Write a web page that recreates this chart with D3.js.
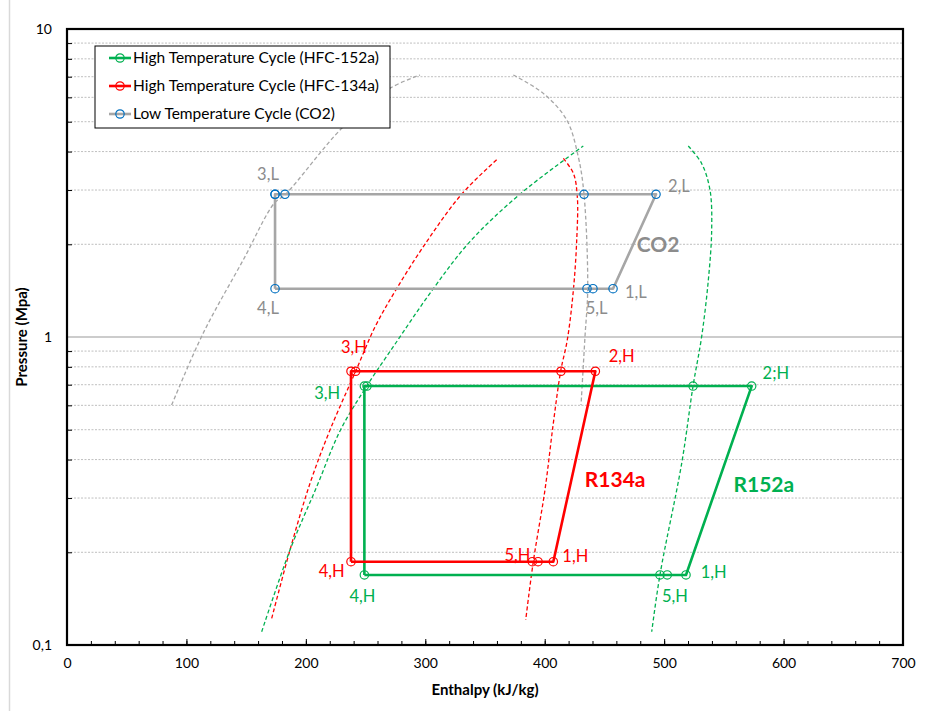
<!DOCTYPE html>
<html>
<head>
<meta charset="utf-8">
<script src="https://cdn.jsdelivr.net/npm/d3@7"></script>
<style>
  body { margin: 0; background: #fff; }
  text { font-family: Lato, "Open Sans", sans-serif; }
</style>
</head>
<body>
<script>
// enthalpy (kJ/kg) ticks and pressure (MPa) ticks
var xTicks = [0, 100, 200, 300, 400, 500, 600, 700];
var xMinor = d3.range(0, 701, 20);
var yTicks = [0.1, 1, 10];
var yMinor = [0.2, 0.3, 0.4, 0.5, 0.6, 0.7, 0.8, 0.9, 2, 3, 4, 5, 6, 7, 8, 9];

// cycles: [h, P]
var cycleCO2 = [[174.2, 1.435], [435.4, 1.435], [440.4, 1.435], [457.2, 1.435], [493.2, 2.906],
  [432.9, 2.906], [182.5, 2.906], [174.2, 2.906], [174.2, 2.906], [174.2, 1.435]];
var cycle134a = [[237.8, 0.1864], [389.6, 0.1864], [394.4, 0.1864], [407.2, 0.1864], [442.4, 0.774],
  [413.6, 0.774], [241.7, 0.774], [237.8, 0.774], [237.8, 0.1864]];
var cycle152a = [[249.0, 0.1688], [496.5, 0.1688], [502.6, 0.1688], [518.3, 0.1688], [573.3, 0.693],
  [524.2, 0.693], [251.2, 0.693], [249.0, 0.693], [249.0, 0.1688]];

// saturation curves (dashed)
var satLiqCO2 = [[87.6, 0.601], [114, 1.028], [147.6, 1.78], [173.6, 2.72], [183.1, 2.91],
  [231.4, 4.82], [270.5, 6.42], [295.6, 7.09]];
var satVapCO2 = [[373.7, 7.09], [398.8, 6.18], [418.4, 5.07], [428.1, 3.85], [432.9, 2.906],
  [436.0, 1.435], [433.7, 1.0], [430.4, 0.601]];
var satLiq134a = [[171.4, 0.122], [186.7, 0.2034], [203.5, 0.335], [220.2, 0.499], [241.7, 0.774],
  [258, 1.08], [276, 1.435], [301.2, 2.04], [330.5, 2.91], [360.3, 3.78]];
var satVap134a = [[415.6, 3.80], [424, 3.40], [427.3, 2.855], [426.8, 2.065], [424, 1.42],
  [418.9, 0.978], [413.4, 0.776], [407.2, 0.5245], [400.2, 0.3185], [390.4, 0.186], [384.1, 0.1206]];
var satLiq152a = [[163, 0.1104], [186.7, 0.2034], [209.1, 0.3266], [229, 0.499], [251, 0.693],
  [273.2, 0.93], [306.7, 1.435], [337.4, 2.04], [379.3, 2.91], [432.3, 4.17]];
var satVap152a = [[520.2, 4.17], [531.4, 3.66], [538.4, 3.00], [539.8, 2.226], [537, 1.53],
  [531.4, 1.002], [524.2, 0.693], [514.7, 0.389], [496.5, 0.169], [489.6, 0.1104]];

// point labels [text, h, P]
var labelsCO2 = [["3,L", 168.3, 3.38], ["4,L", 168.3, 1.242], ["2,L", 512.4, 3.09],
  ["1,L", 476.4, 1.40], ["5,L", 443.5, 1.242]];
var labels134a = [["3,H", 240.3, 0.925], ["2,H", 464.5, 0.866], ["4,H", 221.6, 0.1735],
  ["5,H", 377.2, 0.196], ["1,H", 425.6, 0.194]];
var labels152a = [["3,H", 217.8, 0.656], ["2;H", 593.5, 0.764], ["4,H", 247.4, 0.1445],
  ["5,H", 509.0, 0.1438], ["1,H", 541.5, 0.1718]];
var bigLabels = [["CO2", 494.9, 1.99], ["R134a", 459, 0.3434], ["R152a", 583.5, 0.331]];

var legendNames = ["High Temperature Cycle (HFC-152a)", "High Temperature Cycle (HFC-134a)", "Low Temperature Cycle (CO2)"];

var W = 935, H = 711;
var mLeft = 67, mRight = 903, mTop = 29, mBottom = 645;

var svg = d3.select("body").append("svg").attr("width", W).attr("height", H);

// chart area border (only left edge shows)
svg.append("line").attr("x1", 9.5).attr("x2", 9.5).attr("y1", 0).attr("y2", H)
  .attr("stroke", "#d9d9d9").attr("stroke-width", 1.5);

var x = d3.scaleLinear().domain([0, 700]).range([mLeft, mRight]);
var y = d3.scaleLog().domain([0.1, 10]).range([mBottom, mTop]);

// gridlines
svg.append("g").selectAll("line").data(yMinor).enter().append("line")
  .attr("x1", mLeft).attr("x2", mRight)
  .attr("y1", function(d){ return y(d); }).attr("y2", function(d){ return y(d); })
  .attr("stroke", "#bfbfbf").attr("stroke-width", 1).attr("stroke-dasharray", "2,1.5");
svg.append("line").attr("x1", mLeft).attr("x2", mRight).attr("y1", y(1)).attr("y2", y(1))
  .attr("stroke", "#999").attr("stroke-width", 1);

// axes
var fmt = function(d){ return String(d).replace(".", ","); };

var xAxis = svg.append("g").attr("transform", "translate(0," + mBottom + ")")
  .call(d3.axisBottom(x).tickValues(xMinor).tickSize(-4).tickFormat(""));
xAxis.selectAll("path").remove();
xAxis.selectAll("line").attr("stroke", "#000");
var xAxisMaj = svg.append("g").attr("transform", "translate(0," + mBottom + ")")
  .call(d3.axisBottom(x).tickValues(xTicks).tickSize(-6).tickPadding(13).tickFormat(fmt));
xAxisMaj.selectAll("path").remove();
xAxisMaj.selectAll("line").attr("stroke", "#000");
xAxisMaj.selectAll("text").attr("font-size", 14).attr("fill", "#000")
  .style("font-family", "Lato, sans-serif");

var yAxis = svg.append("g").attr("transform", "translate(" + mLeft + ",0)")
  .call(d3.axisLeft(y).tickValues(yMinor).tickSize(-5).tickFormat(""));
yAxis.selectAll("path").remove();
yAxis.selectAll("line").attr("stroke", "#000");
var yAxisMaj = svg.append("g").attr("transform", "translate(" + mLeft + ",0)")
  .call(d3.axisLeft(y).tickValues(yTicks).tickSize(0).tickPadding(15).tickFormat(fmt));
yAxisMaj.selectAll("path").remove();
yAxisMaj.selectAll("text").attr("font-size", 14).attr("fill", "#000")
  .style("font-family", "Lato, sans-serif");

// plot frame
svg.append("rect").attr("x", mLeft).attr("y", mTop).attr("width", mRight - mLeft).attr("height", mBottom - mTop)
  .attr("fill", "none").attr("stroke", "#000").attr("stroke-width", 2.2);

// axis titles
svg.append("text").attr("x", (mLeft + mRight) / 2).attr("y", 695).attr("text-anchor", "middle")
  .attr("font-size", 15).attr("font-weight", "bold").text("Enthalpy (kJ/kg)");
svg.append("text").attr("transform", "translate(27," + y(1) + ") rotate(-90)").attr("text-anchor", "middle")
  .attr("font-size", 15).attr("font-weight", "bold").text("Pressure (Mpa)");

var line = d3.line().x(function(d){ return x(d[0]); }).y(function(d){ return y(d[1]); });
var smooth = d3.line().curve(d3.curveCatmullRom.alpha(0.5))
  .x(function(d){ return x(d[0]); }).y(function(d){ return y(d[1]); });

var GREEN = "#00b050", RED = "#ff0000", GREY = "#a6a6a6", BLUE = "#0070c0";

// dashed saturation curves
var domes = [[satLiqCO2, GREY], [satVapCO2, GREY], [satLiq134a, RED], [satVap134a, RED],
  [satLiq152a, GREEN], [satVap152a, GREEN]];
domes.forEach(function(c){
  svg.append("path").attr("d", smooth(c[0])).attr("fill", "none")
    .attr("stroke", c[1]).attr("stroke-width", 1.3).attr("stroke-dasharray", "4,2.5");
});

// cycles
function drawCycle(data, col, mk){
  svg.append("path").attr("d", line(data)).attr("fill", "none")
    .attr("stroke", col).attr("stroke-width", 2.6).attr("stroke-linejoin", "round");
  svg.append("g").selectAll("circle").data(data.slice(0, -1)).enter().append("circle")
    .attr("cx", function(d){ return x(d[0]); }).attr("cy", function(d){ return y(d[1]); })
    .attr("r", 4.2).attr("fill", "none").attr("stroke", mk).attr("stroke-width", 1.2);
}
drawCycle(cycleCO2, GREY, BLUE);
drawCycle(cycle152a, GREEN, GREEN);
drawCycle(cycle134a, RED, RED);

function drawLabels(arr, col, size, weight){
  svg.append("g").selectAll("text").data(arr).enter().append("text")
    .attr("x", function(d){ return x(d[1]); }).attr("y", function(d){ return y(d[2]); })
    .attr("dy", "0.35em").attr("text-anchor", "middle")
    .attr("font-size", size).attr("font-weight", weight).attr("fill", col)
    .text(function(d){ return d[0]; });
}
drawLabels(labelsCO2, "#8c8c8c", 16.5, "normal");
drawLabels(labels134a, RED, 16.5, "normal");
drawLabels(labels152a, GREEN, 16.5, "normal");
svg.append("g").selectAll("text").data(bigLabels).enter().append("text")
  .attr("x", function(d){ return x(d[1]); }).attr("y", function(d){ return y(d[2]); })
  .attr("dy", "0.35em").attr("text-anchor", "middle")
  .attr("font-size", 21).attr("font-weight", "bold")
  .attr("fill", function(d, i){ return [ "#8c8c8c", RED, GREEN ][i]; })
  .text(function(d){ return d[0]; });

// legend
var lg = svg.append("g").attr("transform", "translate(95,46)");
lg.append("rect").attr("width", 295).attr("height", 82).attr("fill", "#fff")
  .attr("stroke", "#000").attr("stroke-width", 1);
var legCols = [[GREEN, GREEN], [RED, RED], [GREY, BLUE]];
legendNames.forEach(function(n, i){
  var yy = 12 + i * 28;
  lg.append("line").attr("x1", 14).attr("x2", 36).attr("y1", yy).attr("y2", yy)
    .attr("stroke", legCols[i][0]).attr("stroke-width", 2.6);
  lg.append("circle").attr("cx", 25).attr("cy", yy).attr("r", 4.2).attr("fill", "none")
    .attr("stroke", legCols[i][1]).attr("stroke-width", 1.2);
  lg.append("text").attr("x", 38).attr("y", yy).attr("dy", "0.35em")
    .attr("font-size", 15.5).attr("fill", "#000").text(n);
});
</script>
</body>
</html>
